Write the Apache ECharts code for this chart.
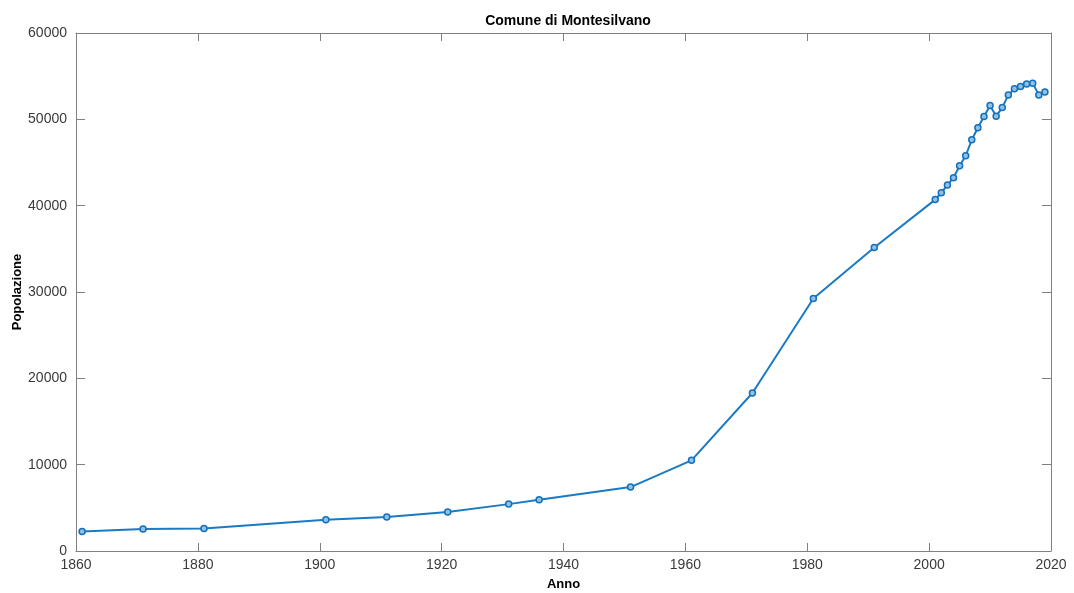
<!DOCTYPE html>
<html><head><meta charset="utf-8">
<script src="https://cdn.jsdelivr.net/npm/echarts@6/dist/echarts.min.js"></script>
<style>html,body{margin:0;padding:0;background:#fff}#c{width:1074px;height:593px}</style>
</head><body><div id="c"></div>
<script>
const years = [1861,1871,1881,1901,1911,1921,1931,1936,1951,1961,1971,1981,1991,2001,2002,2003,2004,2005,2006,2007,2008,2009,2010,2011,2012,2013,2014,2015,2016,2017,2018,2019];
const population = [2270,2540,2620,3620,3930,4510,5430,5930,7400,10500,18300,29250,35150,40700,41500,42390,43240,44620,45780,47630,49020,50320,51600,50370,51360,52830,53530,53790,54100,54180,52830,53180];
const titleText = 'Comune di Montesilvano';
const xName = 'Anno';
const yName = 'Popolazione';

const font = 'Liberation Sans, Arial, Helvetica, sans-serif';
const axisCol = '#808080';
const textCol = '#3a3a3a';
const chart = echarts.init(document.getElementById('c'), null, {renderer:'canvas'});
const plain = v => String(v);
const baseX = {type:'value', min:1860, max:2020, interval:20,
  axisLine:{show:true, onZero:false, lineStyle:{color:axisCol, width:1}},
  axisTick:{show:true, inside:true, length:8, lineStyle:{color:axisCol}},
  splitLine:{show:false}};
const baseY = {type:'value', min:0, max:60000, interval:10000,
  axisLine:{show:true, onZero:false, lineStyle:{color:axisCol, width:1}},
  axisTick:{show:true, inside:true, length:9, lineStyle:{color:axisCol}},
  splitLine:{show:false}};
chart.setOption({
  animation:false,
  title:{text:titleText, left:563, top:9, textAlign:'center',
    textStyle:{fontFamily:font, fontSize:14, fontWeight:'bold', color:'#000'}},
  grid:{left:76, right:23, top:33, bottom:42, containLabel:false, outerBoundsMode:'none'},
  xAxis:[
    Object.assign({}, baseX, {position:'bottom', name:xName, nameLocation:'middle', nameGap:27,
      nameMoveOverlap:false,
      nameTextStyle:{fontFamily:font, fontSize:13, fontWeight:'bold', color:'#000'},
      axisLabel:{fontFamily:font, fontSize:14, color:textCol, margin:7, formatter:plain}}),
    Object.assign({}, baseX, {position:'top', axisLabel:{show:false}})
  ],
  yAxis:[
    Object.assign({}, baseY, {position:'left', name:yName, nameLocation:'middle', nameGap:52,
      nameMoveOverlap:false,
      nameTextStyle:{fontFamily:font, fontSize:13, fontWeight:'bold', color:'#000'},
      axisLabel:{fontFamily:font, fontSize:14, color:textCol, margin:9, formatter:plain}}),
    Object.assign({}, baseY, {position:'right', axisLabel:{show:false}})
  ],
  series:[{
    type:'line', xAxisIndex:0, yAxisIndex:0,
    data: years.map((y,i)=>[y, population[i]]),
    symbol:'circle', symbolSize:6,
    lineStyle:{color:'#1a7ac4', width:2},
    itemStyle:{color:'#8fc2ea', borderColor:'#1570b8', borderWidth:1.5},
    showAllSymbol:true
  }]
});
</script></body></html>
